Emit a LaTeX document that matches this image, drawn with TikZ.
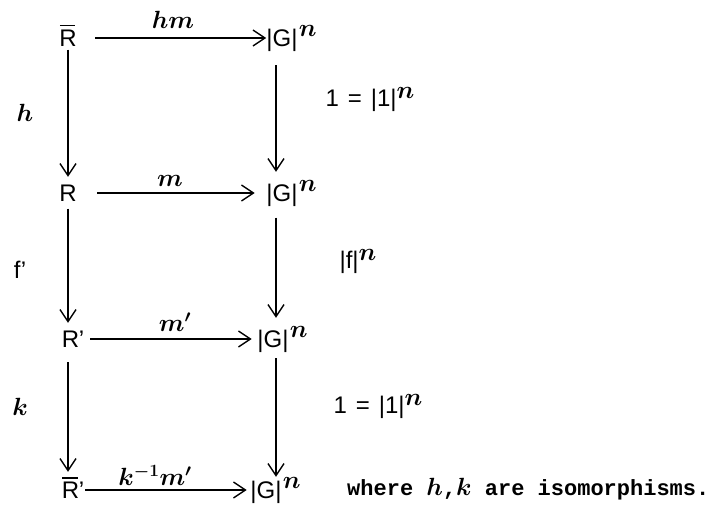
\documentclass[tikz,border=0pt]{standalone}
\usepackage{fontspec}
\setmainfont{Liberation Sans}
\setmonofont{Liberation Mono}
\usetikzlibrary{arrows.meta}
\newcommand\myRbar{\leavevmode\rlap{\kern0.5pt\rule[20pt]{15.5pt}{1.4pt}}R}
\newcommand\mysupn{\raisebox{8pt}{$n$}}
\newcommand\mybm[1]{\mbox{\fontsize{24}{28}\selectfont\boldmath$#1$}}
\begin{document}
\begin{tikzpicture}[x=1pt,y=-1pt,
  obj/.style={inner sep=0pt, text height=17pt, text depth=0pt, font=\fontsize{24}{28}\selectfont\boldmath},
  lab/.style={inner sep=0pt, font=\fontsize{24}{28}\selectfont\boldmath},
  sup/.style={inner sep=0pt, font=\fontsize{24}{26}\selectfont\boldmath},
  arr/.style={line width=1.4pt, -{Straight Barb[length=12pt,width=16pt,line width=1.4pt]}},
  note/.style={inner sep=0pt, anchor=base west, font=\ttfamily\bfseries\fontsize{22}{24}\selectfont},
]
\useasboundingbox (0,0) rectangle (715,510);
% objects
\node[obj] (Rb)  at (68,38)  {\myRbar};
\node[obj] (R)   at (68,193) {R};
\node[obj] (Rp)  at (73,339) {R\kern-0.5pt’};
\node[obj] (Rbp) at (73,490) {\myRbar\kern-0.5pt’};
\node[obj,label={[sup,anchor=north west,xshift=1pt,yshift=4pt]north east:$n$}] (G1) at (282,38)  {|G|};
\node[obj,label={[sup,anchor=north west,xshift=1pt,yshift=4pt]north east:$n$}] (G2) at (282,193) {|G|};
\node[obj,label={[sup,anchor=north west,xshift=1pt,yshift=4pt]north east:$n$}] (G3) at (273,339) {|G|};
\node[obj,label={[sup,anchor=north west,xshift=1pt,yshift=4pt]north east:$n$}] (G4) at (266,490) {|G|};
\coordinate (ux) at (68,0);
\coordinate (vx) at (276,0);
% horizontal arrows
\draw[arr, shorten <=18.5pt] (Rb) -- (G1);
\draw[arr, shorten <=20.5pt, shorten >=11.5pt] (R) -- (G2);
\draw[arr, shorten <=6pt, shorten >=5.5pt] (Rp) -- (G3);
\draw[arr, shorten <=1pt, shorten >=3.5pt] (Rbp) -- (G4);
% left vertical arrows
\draw[arr, shorten <=3pt, shorten >=7.5pt] (ux |- Rb.south) -- (ux |- R.north);
\draw[arr, shorten <=7pt, shorten >=7.5pt] (ux |- R.south) -- (ux |- Rp.north);
\draw[arr, shorten <=14.5pt, shorten >=9.5pt] (ux |- Rp.south) -- (ux |- Rbp.north);
% right vertical arrows
\draw[arr, shorten <=18.5pt, shorten >=12.5pt] (vx |- G1.south) -- (vx |- G2.north);
\draw[arr, shorten <=16pt, shorten >=12.5pt] (vx |- G2.south) -- (vx |- G3.north);
\draw[arr, shorten <=10.5pt, shorten >=4.5pt] (vx |- G3.south) -- (vx |- G4.north);
% arrow labels
\node[lab] (lhm) at (173,20)  {$hm$};
\node[lab] (lm)  at (170,181) {$m$};
\node[lab] (lmp) at (175,322) {$m'$};
\node[lab] (lkm) at (155,475) {$k^{-1}m'$};
\node[lab] (lh)  at (25,113)  {$h$};
\node[lab] (lf)  at (20,270)  {f’};
\node[lab] (lk)  at (20,407)  {$k$};
\node[lab] (r1)  at (370,100) {1\hspace{9pt}=\hspace{9pt}|1|\mysupn};
\node[lab] (rf)  at (358,262) {|f|\mysupn};
\node[lab] (r2)  at (378,407) {1\hspace{9pt}=\hspace{9pt}|1|\mysupn};
\node[note] (txt) at (347,495) {where \mybm{h},\mybm{k} are isomorphisms.};
\end{tikzpicture}
\end{document}
